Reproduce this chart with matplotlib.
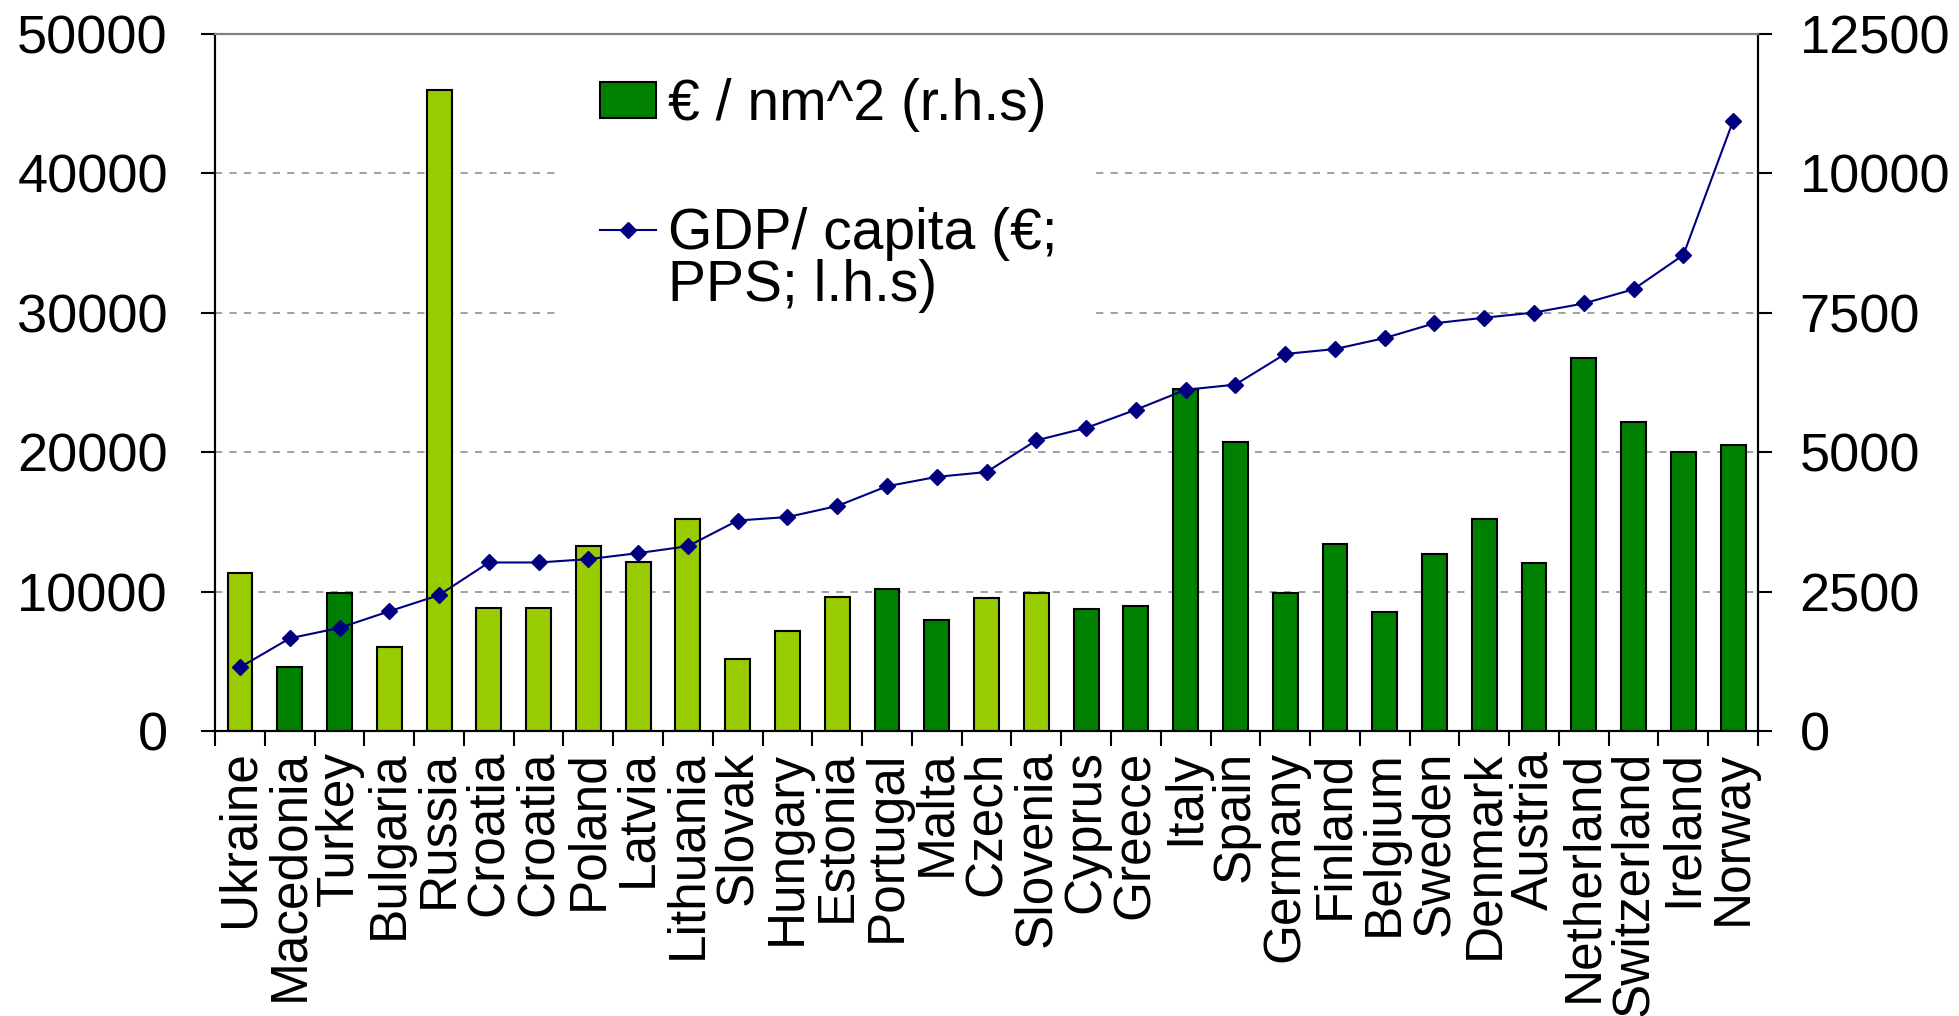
import numpy as np
import matplotlib
matplotlib.use('Agg')
import matplotlib.pyplot as plt
from matplotlib.patches import Patch, Rectangle
from matplotlib.lines import Line2D
from matplotlib.legend_handler import HandlerLine2D

plt.rcParams['font.family'] = ['Liberation Sans', 'DejaVu Sans']

# Países (ordenados pelo PIB per capita)
paises = ['Ukraine', 'Macedonia', 'Turkey', 'Bulgaria', 'Russia', 'Croatia', 'Croatia',
          'Poland', 'Latvia', 'Lithuania', 'Slovak', 'Hungary', 'Estonia', 'Portugal',
          'Malta', 'Czech', 'Slovenia', 'Cyprus', 'Greece', 'Italy', 'Spain', 'Germany',
          'Finland', 'Belgium', 'Sweden', 'Denmark', 'Austria', 'Netherland',
          'Switzerland', 'Ireland', 'Norway']

# € / nm^2 (eixo direito)
euro_nm2 = [2830, 1143, 2475, 1498, 11493, 2213, 2213, 3318, 3023, 3805, 1300, 1790,
            2410, 2543, 1988, 2380, 2470, 2188, 2240, 6125, 5175, 2470, 3350, 2135,
            3180, 3798, 3018, 6690, 5548, 5000, 5130]

# grupo da barra: 1 = verde claro, 0 = verde escuro
grupo_claro = [1, 0, 0, 1, 1, 1, 1, 1, 1, 1, 1, 1, 1, 0, 0, 1, 1, 0, 0, 0, 0, 0,
               0, 0, 0, 0, 0, 0, 0, 0, 0]

# PIB per capita (€; PPS; eixo esquerdo)
pib_capita = [4570, 6650, 7400, 8590, 9750, 12090, 12090, 12330, 12760, 13260, 15100,
              15350, 16140, 17560, 18230, 18580, 20850, 21740, 23050, 24480, 24850,
              27050, 27400, 28190, 29250, 29650, 30020, 30670, 31690, 34150, 43770]

cor_clara = '#99CC00'
cor_escura = '#008000'
cor_linha = '#000080'


# marcador da legenda alinhado com a primeira linha do texto
class HandlerPrimeiraLinha(HandlerLine2D):
    def create_artists(self, legend, orig_handle, xdescent, ydescent, width, height,
                       fontsize, trans):
        return super().create_artists(legend, orig_handle, xdescent, ydescent - 1.13 * fontsize,
                                      width, height, fontsize, trans)


fig = plt.figure(figsize=(19.59, 10.16), dpi=100)
ax = fig.add_axes([0.1098, 0.2805, 0.7876, 0.686])
ax2 = ax.twinx()

x = np.arange(len(paises))
cores = [cor_clara if g else cor_escura for g in grupo_claro]
ax.bar(x, euro_nm2, width=0.5, color=cores, edgecolor='black', linewidth=1.5, zorder=2)
ax2.plot(x, pib_capita, color=cor_linha, linewidth=1.5, marker='D', markersize=8,
         markerfacecolor=cor_linha, markeredgecolor=cor_linha, zorder=3)

# eixos
ax.set_xlim(-0.5, len(paises) - 0.5)
ax.set_ylim(0, 12500)
ax2.set_ylim(0, 50000)
ax.set_yticks([0, 2500, 5000, 7500, 10000, 12500])
ax2.set_yticks([0, 10000, 20000, 30000, 40000, 50000])
ax.yaxis.tick_right()
ax2.yaxis.tick_left()

ax.yaxis.grid(True, linestyle=(0, (4, 4)), color='#999999', linewidth=1.3, zorder=0)
ax.set_axisbelow(True)

# fundo branco da legenda (interrompe as linhas de grade)
ax.add_patch(Rectangle((0.221, 0.575), 0.348, 0.41, transform=ax.transAxes,
                       facecolor='white', edgecolor='none', zorder=1))

ax.set_xticks(x)
ax.set_xticklabels(paises, rotation=90, fontsize=37)
ax.set_xticks(np.arange(-0.5, len(paises), 1), minor=True)
ax.tick_params(axis='x', which='major', length=0, pad=14)
ax.tick_params(axis='x', which='minor', length=11, width=1.5, direction='out')
ax.tick_params(axis='y', which='major', labelsize=39, length=10, width=1.5, pad=20)
ax2.tick_params(axis='y', which='major', labelsize=39, length=10, width=1.5, pad=24)

for a in (ax, ax2):
    a.spines['top'].set_color('#808080')
    a.spines['top'].set_linewidth(1.5)
    for s in ('left', 'right', 'bottom'):
        a.spines[s].set_linewidth(1.5)

# legenda
linha_leg = Line2D([0], [0], color=cor_linha, linewidth=1.5, marker='D', markersize=8)
handles = [Patch(facecolor=cor_escura, edgecolor='black', linewidth=1.5), linha_leg]
rotulos = ['€ / nm^2 (r.h.s)', 'GDP/ capita (€;\nPPS; l.h.s)']
leg = ax2.legend(handles, rotulos, loc='upper left', bbox_to_anchor=(0.227, 0.986),
                 borderaxespad=0, fontsize=41, frameon=False,
                 handlelength=1.0, handleheight=0.6, handletextpad=0.2,
                 labelspacing=1.32, borderpad=0.6,
                 handler_map={linha_leg: HandlerPrimeiraLinha()})
for t in leg.get_texts():
    t.set_linespacing(0.95)

plt.savefig('out.png', dpi=100)
